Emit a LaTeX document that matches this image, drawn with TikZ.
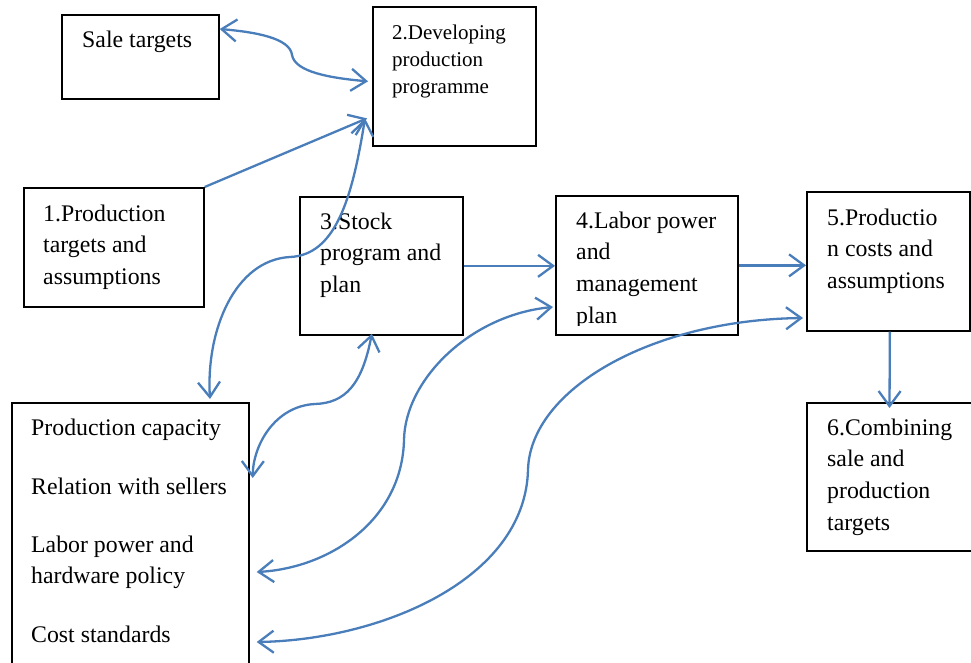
\documentclass[tikz,border=0pt]{standalone}
\usepackage{fontspec}
\setmainfont{Liberation Serif}
\usetikzlibrary{arrows.meta,calc}
\definecolor{linkblue}{HTML}{4A7EBB}
\begin{document}
\begin{tikzpicture}[x=1pt,y=-1pt,
  box/.style={draw=black, line width=1.7pt, rectangle, inner sep=0pt, anchor=north west},
  % multi-line texts are placed by the baseline of their last line
  txt/.style={anchor=base west, inner sep=0pt, align=left, font=\fontsize{23.8}{31.7}\selectfont},
  smalltxt/.style={txt, font=\fontsize{21}{27}\selectfont},
  link/.style={draw=linkblue, line width=2.3pt, -{Straight Barb[length=15pt,width=22pt]}},
  twoway/.style={draw=linkblue, line width=2.3pt, {Straight Barb[length=15pt,width=22pt]}-{Straight Barb[length=15pt,width=22pt]}},
]
\useasboundingbox (0,0) rectangle (971,663);

% boxes
\node[box, minimum width=157pt, minimum height=84pt]  (sale) at (61,14) {};
\node[box, minimum width=163pt, minimum height=139pt] (b2)   at (372,6) {};
\node[box, minimum width=180pt, minimum height=119pt] (b1)   at (23,187) {};
\node[box, minimum width=163pt, minimum height=138pt] (b3)   at (299,196) {};
\node[box, minimum width=182pt, minimum height=139pt] (b4)   at (555,195) {};
\node[box, minimum width=163pt, minimum height=139pt] (b5)   at (806,191) {};
\node[box, minimum width=175pt, minimum height=148pt] (b6)   at (806,402) {};
\node[box, minimum width=237pt, minimum height=275pt] (big)  at (11,402) {};

% box texts
\node[txt] (tsale) at ($(sale.north west)+(21,34)$) {Sale targets};
\node[smalltxt] (t2) at ($(b2.north west)+(20,88)$) {2.Developing\\production\\programme};
\node[txt] (t1) at ($(b1.north west)+(20,97.4)$) {1.Production\\targets and\\assumptions};
\node[txt] (t3) at ($(b3.north west)+(21,96.4)$) {3.Stock\\program and\\plan};
\begin{scope}
  \clip ($(b4.north west)+(1,1)$) rectangle ($(b4.south east)+(-1,-10)$);
  \node[txt] (t4) at ($(b4.north west)+(21,128.1)$) {4.Labor power\\and\\management\\plan};
\end{scope}
\node[txt] (t5) at ($(b5.north west)+(21,97.4)$) {5.Productio\\n costs and\\assumptions};
\node[txt] (t6) at ($(b6.north west)+(21,128.1)$) {6.Combining\\sale and\\production\\targets};
\node[txt] (c1) at ($(big.north west)+(20,33)$) {Production capacity};
\node[txt] (c2) at ($(big.north west)+(20,92)$) {Relation with sellers};
\node[txt] (c3) at ($(big.north west)+(20,181.7)$) {Labor power and\\hardware policy};
\node[txt] (c4) at ($(big.north west)+(20,240)$) {Cost standards};

% connectors
\draw[twoway] ($(sale.north east)+(0,15)$) .. controls (255,32) and (290,38) .. (292,55)
  .. controls (295,72) and (330,78) .. ($(b2.west)+(-4,5)$);
\draw[link] (b1.north east) -- ($(b2.west)+(-5,42)$);
\draw[twoway] ($(b2.west)+(-7,42)$) .. controls (352,200) and (335,255) .. (290,257)
  .. controls (235,260) and (206,330) .. ($(big.north west)+(199,-3)$);
\draw[link] (b3.east) -- (b3.east -| b4.west);
\draw[link] (b4.east) -- (b4.east -| b5.west);
\draw[link] ($(b5.south)+(1.5,0)$) -- ($(b6.north west)+(83.5,6)$);
\draw[twoway] ($(b3.south)+(-9.5,-2)$) .. controls (362,385) and (345,403) .. (315,404)
  .. controls (275,406) and (253,445) .. ($(big.north east)+(3,76)$);
\draw[twoway] ($(b4.north west)+(-2,112)$) .. controls (470,315) and (405,380) .. (404,440)
  .. controls (402,520) and (330,568) .. ($(big.north east)+(7,170)$);
\draw[twoway] ($(b5.north west)+(-3,127)$) .. controls (650,320) and (530,390) .. (528,470)
  .. controls (525,580) and (380,640) .. ($(big.north east)+(7,240)$);
\end{tikzpicture}
\end{document}
